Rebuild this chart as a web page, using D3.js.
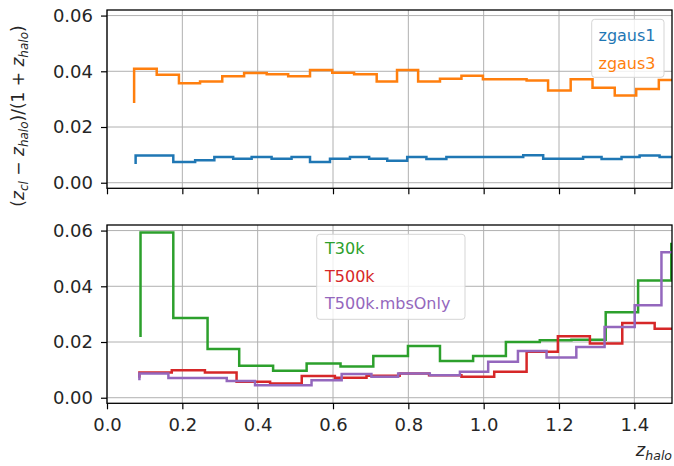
<!DOCTYPE html>
<html>
<head>
<meta charset="utf-8">
<script src="https://cdn.jsdelivr.net/npm/d3@7"></script>
<style>
  body { margin: 0; background: #fff; }
  svg { display: block; }
  text { font-family: "DejaVu Sans", sans-serif; fill: #262626; }
</style>
</head>
<body>
<svg id="chart" width="674" height="466"></svg>
<script>
// Tick values shared by both panels
const xTicks = [0.0, 0.2, 0.4, 0.6, 0.8, 1.0, 1.2, 1.4];
const yTicks = [0.00, 0.02, 0.04, 0.06];

// Upper panel: Gaussian photo-z runs (step curves, value drawn up to each point)
const zgaus1X = [0.076, 0.126, 0.176, 0.234, 0.285, 0.335, 0.384, 0.437, 0.490, 0.539, 0.592, 0.645, 0.696, 0.744, 0.797, 0.848, 0.901, 0.954, 1.003, 1.056, 1.105, 1.158, 1.211, 1.264, 1.313, 1.366, 1.414, 1.467, 1.520];
const zgaus1Y = [0.0067, 0.0098, 0.0098, 0.0074, 0.0081, 0.0092, 0.0086, 0.0092, 0.0086, 0.0092, 0.0074, 0.0086, 0.0092, 0.0086, 0.0079, 0.0092, 0.0085, 0.0092, 0.0092, 0.0092, 0.0092, 0.0099, 0.0086, 0.0086, 0.0092, 0.0085, 0.0092, 0.0098, 0.0092];
const zgaus3X = [0.072, 0.132, 0.191, 0.247, 0.306, 0.364, 0.424, 0.481, 0.539, 0.598, 0.656, 0.716, 0.770, 0.826, 0.884, 0.941, 0.998, 1.056, 1.114, 1.171, 1.231, 1.289, 1.348, 1.405, 1.465, 1.523];
const zgaus3Y = [0.0286, 0.0409, 0.0388, 0.0357, 0.0363, 0.0382, 0.0394, 0.0389, 0.0382, 0.0405, 0.0395, 0.0389, 0.0363, 0.0405, 0.0363, 0.0373, 0.0384, 0.0371, 0.0371, 0.0367, 0.0331, 0.0371, 0.0341, 0.0313, 0.0336, 0.0369];

// Lower panel: template runs
const t30kX = [0.089, 0.176, 0.267, 0.351, 0.441, 0.530, 0.620, 0.707, 0.799, 0.884, 0.972, 1.059, 1.149, 1.233, 1.324, 1.410, 1.498, 1.587];
const t30kY = [0.0218, 0.0593, 0.0286, 0.0175, 0.0115, 0.0097, 0.0123, 0.0112, 0.0150, 0.0186, 0.0132, 0.0150, 0.0200, 0.0206, 0.0208, 0.0307, 0.0421, 0.0552];
const t500kX = [0.086, 0.172, 0.260, 0.344, 0.433, 0.517, 0.605, 0.689, 0.777, 0.855, 0.941, 1.028, 1.114, 1.197, 1.282, 1.368, 1.454, 1.539];
const t500kY = [0.0072, 0.0091, 0.0099, 0.0091, 0.0057, 0.0051, 0.0078, 0.0072, 0.0079, 0.0087, 0.0081, 0.0075, 0.0093, 0.0165, 0.0221, 0.0195, 0.0268, 0.0248];
const mbsX = [0.086, 0.163, 0.240, 0.318, 0.393, 0.468, 0.543, 0.623, 0.702, 0.773, 0.857, 0.937, 1.012, 1.091, 1.167, 1.246, 1.321, 1.401, 1.472, 1.547];
const mbsY = [0.0063, 0.0087, 0.0071, 0.0071, 0.0060, 0.0045, 0.0045, 0.0063, 0.0085, 0.0075, 0.0087, 0.0081, 0.0093, 0.0129, 0.0168, 0.0144, 0.0182, 0.0254, 0.0332, 0.0522];

const topNames = ["zgaus1", "zgaus3"];
const bottomNames = ["T30k", "T500k", "T500k.mbsOnly"];

const colors = {
  "zgaus1": "#1f77b4", "zgaus3": "#ff7f0e",
  "T30k": "#2ca02c", "T500k": "#d62728", "T500k.mbsOnly": "#9467bd"
};

const topSeries = [
  { name: "zgaus1", xs: zgaus1X, ys: zgaus1Y },
  { name: "zgaus3", xs: zgaus3X, ys: zgaus3Y }
];
const bottomSeries = [
  { name: "T30k", xs: t30kX, ys: t30kY },
  { name: "T500k", xs: t500kX, ys: t500kY },
  { name: "T500k.mbsOnly", xs: mbsX, ys: mbsY }
];

const svg = d3.select("#chart");
const left = 107, right = 672;
const panels = [
  { id: "top", y0: 10, y1: 188.3, series: topSeries, names: topNames, showXLabels: false,
    legend: { x: 591.7, y: 19.3, w: 72.3, h: 58, textX: 598.5, rowY: 35.5, rowStep: 28 } },
  { id: "bottom", y0: 225, y1: 403.3, series: bottomSeries, names: bottomNames, showXLabels: true,
    legend: { x: 316.7, y: 234.3, w: 148.3, h: 85, textX: 325, rowY: 248.5, rowStep: 27.5 } }
];

const x = d3.scaleLinear().domain([0, 1.5]).range([left, right]);

panels.forEach(p => {
  const y = d3.scaleLinear().domain([-0.002, 0.062]).range([p.y1, p.y0]);
  const g = svg.append("g");

  // grid
  g.append("g").selectAll("line.vx").data(xTicks).join("line")
    .attr("x1", d => x(d)).attr("x2", d => x(d))
    .attr("y1", p.y0).attr("y2", p.y1)
    .attr("stroke", "#b0b0b0").attr("stroke-width", 1);
  g.append("g").selectAll("line.hy").data(yTicks).join("line")
    .attr("x1", left).attr("x2", right)
    .attr("y1", d => y(d)).attr("y2", d => y(d))
    .attr("stroke", "#b0b0b0").attr("stroke-width", 1);

  // clip region for the step curves
  svg.append("clipPath").attr("id", "clip-" + p.id)
    .append("rect").attr("x", left).attr("y", p.y0)
    .attr("width", right - left).attr("height", p.y1 - p.y0);

  const line = d3.line()
    .x(d => x(d[0])).y(d => y(d[1]))
    .curve(d3.curveStepBefore);

  const curves = g.append("g").attr("clip-path", "url(#clip-" + p.id + ")");
  p.series.forEach(s => {
    curves.append("path")
      .datum(d3.zip(s.xs, s.ys))
      .attr("d", line)
      .attr("fill", "none")
      .attr("stroke", colors[s.name])
      .attr("stroke-width", 2.5)
      .attr("stroke-linejoin", "miter");
  });

  // axes
  const yAxis = d3.axisLeft(y).tickValues(yTicks).tickFormat(d3.format(".2f"))
    .tickSize(6).tickPadding(8);
  const ya = g.append("g").attr("transform", `translate(${left},0)`).call(yAxis);
  const xAxis = d3.axisBottom(x).tickValues(xTicks).tickFormat(d3.format(".1f"))
    .tickSize(6).tickPadding(9);
  const xa = g.append("g").attr("transform", `translate(0,${p.y1})`).call(xAxis);
  if (!p.showXLabels) xa.selectAll("text").remove();
  [ya, xa].forEach(a => {
    a.select(".domain").remove();
    a.selectAll("line").attr("stroke", "#000").attr("stroke-width", 1.2);
    a.selectAll("text").attr("font-size", "18px").attr("fill", "#262626")
      .attr("font-family", "DejaVu Sans, sans-serif");
  });

  // frame
  g.append("rect").attr("x", left).attr("y", p.y0)
    .attr("width", right - left).attr("height", p.y1 - p.y0)
    .attr("fill", "none").attr("stroke", "#000").attr("stroke-width", 1.3);

  // legend (coloured labels only)
  const L = p.legend;
  g.append("rect").attr("x", L.x).attr("y", L.y).attr("width", L.w).attr("height", L.h)
    .attr("rx", 3).attr("fill", "#fff").attr("fill-opacity", 0.8)
    .attr("stroke", "#d5d5d5").attr("stroke-width", 1);
  g.append("g").selectAll("text").data(p.names).join("text")
    .attr("x", L.textX).attr("y", (d, i) => L.rowY + i * L.rowStep)
    .attr("dominant-baseline", "central")
    .attr("font-size", "16px")
    .style("fill", d => colors[d])
    .text(d => d);
});

// y-axis label: (z_cl − z_halo)/(1 + z_halo)
const yl = svg.append("text")
  .attr("transform", "translate(24,116) rotate(-90)")
  .attr("text-anchor", "middle")
  .attr("font-size", "17px");
const ylParts = [
  ["(", false, false], ["z", true, false], ["cl", true, true], [" − ", false, false],
  ["z", true, false], ["halo", true, true], [")/(1 + ", false, false],
  ["z", true, false], ["halo", true, true], [")", false, false]
];
let wasSub = false;
ylParts.forEach(([t, it, sub]) => {
  const ts = yl.append("tspan").text(t);
  if (it) ts.attr("font-style", "italic");
  if (sub) { ts.attr("font-size", "12px").attr("dy", wasSub ? 0 : 4); wasSub = true; }
  else { if (wasSub) ts.attr("dy", -4); wasSub = false; }
});

// x-axis label: z_halo
const xl = svg.append("text")
  .attr("x", right).attr("y", 456)
  .attr("text-anchor", "end")
  .attr("font-size", "18px")
  .attr("font-style", "italic");
xl.append("tspan").text("z");
xl.append("tspan").attr("font-size", "12.5px").attr("dy", 4).text("halo");
</script>
</body>
</html>
